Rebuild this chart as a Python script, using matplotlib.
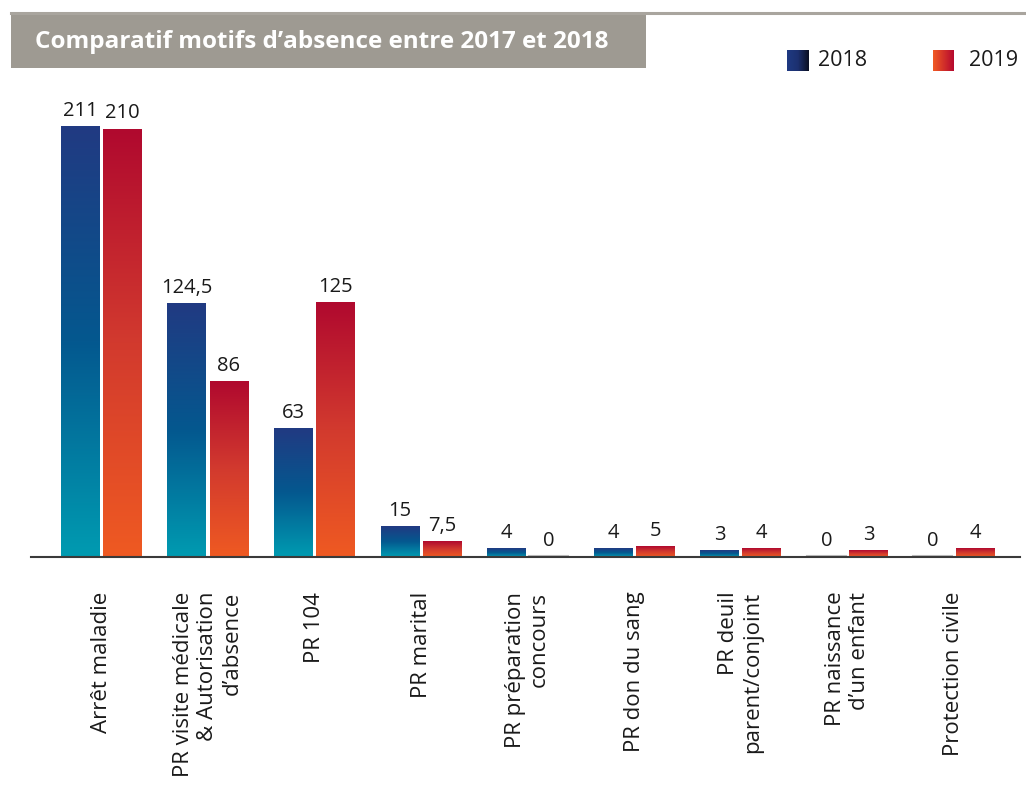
import matplotlib.pyplot as plt
import numpy as np
from matplotlib.colors import LinearSegmentedColormap
from matplotlib.patches import Rectangle
from matplotlib.lines import Line2D

plt.rcParams["font.family"] = ["Open Sans", "DejaVu Sans"]

categories = [
    "Arrêt maladie",
    "PR visite médicale\n& Autorisation\nd’absence",
    "PR 104",
    "PR marital",
    "PR préparation\nconcours",
    "PR don du sang",
    "PR deuil\nparent/conjoint",
    "PR naissance\nd’un enfant",
    "Protection civile",
]
values_2018 = [211, 124.5, 63, 15, 4, 4, 3, 0, 0]
values_2019 = [210, 86, 125, 7.5, 0, 5, 4, 3, 4]
labels_2018 = ["211", "124,5", "63", "15", "4", "4", "3", "0", "0"]
labels_2019 = ["210", "86", "125", "7,5", "0", "5", "4", "3", "4"]
series_names = ["2018", "2019"]

blue_cmap = LinearSegmentedColormap.from_list("blue", ["#009bb1", "#04588f", "#213a82"])
red_cmap = LinearSegmentedColormap.from_list("red", ["#ef5a22", "#d23a2e", "#b0092f"])
# legend swatches use a left-to-right gradient
blue_swatch = LinearSegmentedColormap.from_list("blue_sw", ["#1f3a82", "#1c3070", "#0a0f22"])
red_swatch = LinearSegmentedColormap.from_list("red_sw", ["#f15a24", "#b5092f"])

W, H = 1026, 805
fig = plt.figure(figsize=(W / 100, H / 100), dpi=100)

# header: grey line and title box
fig.add_artist(Line2D([11 / W, 1.0], [1 - 13 / H, 1 - 13 / H], color="#a9a59e", lw=2.2))
fig.add_artist(Rectangle((11 / W, 1 - 68 / H), (646 - 11) / W, (68 - 15) / H,
                         transform=fig.transFigure, facecolor="#9e9a92", edgecolor="none"))
fig.text(35 / W, 1 - 42 / H, "Comparatif motifs d’absence entre 2017 et 2018",
         color="white", fontsize=17.5, fontweight="bold", va="center", ha="left")

ax = fig.add_axes([31 / W, 1 - 557 / H, (1020 - 31) / W, (557 - 90) / H])
x = np.arange(len(categories))
width = 0.365
gap = 0.015
ymax = (557 - 90) / 2.038
ax.set_xlim(-0.66, len(categories) - 1 + 0.62)
ax.set_ylim(0, ymax)

grad = np.linspace(0, 1, 256).reshape(-1, 1)
for vals, labs, cmap, sign in [(values_2018, labels_2018, blue_cmap, -1),
                               (values_2019, labels_2019, red_cmap, 1)]:
    pos = x + sign * (width / 2 + gap)
    bars = ax.bar(pos, vals, width, color="none", edgecolor="none")
    for b, v, lab in zip(bars, vals, labs):
        x0, w, h = b.get_x(), b.get_width(), b.get_height()
        if h > 0:
            ax.imshow(grad, cmap=cmap, aspect="auto", origin="lower",
                      extent=(x0, x0 + w, 0, h), zorder=2)
        else:
            ax.plot([x0, x0 + w], [0.3, 0.3], color="#bdbdbd", lw=1.5, zorder=2)
        ax.annotate(lab, (x0 + w / 2, h), xytext=(0, 4), textcoords="offset points",
                    ha="center", va="bottom", fontsize=14.5, color="#1a1a1a")

ax.set_xticks(x)
ax.set_xticklabels(categories, rotation=90, va="top", ha="center",
                   multialignment="right", fontsize=16, color="#1a1a1a")
ax.tick_params(axis="x", length=0, pad=25)
ax.set_yticks([])
for side in ["top", "left", "right"]:
    ax.spines[side].set_visible(False)
ax.spines["bottom"].set_color("#3a3a3a")
ax.spines["bottom"].set_linewidth(1.5)

# legend with gradient swatches
hgrad = np.linspace(0, 1, 64).reshape(1, -1)
for sx, tx, name, cmap in [(787, 818, series_names[0], blue_swatch),
                           (933, 969, series_names[1], red_swatch)]:
    sw = fig.add_axes([sx / W, 1 - 71 / H, 21 / W, 21 / H])
    sw.imshow(hgrad, cmap=cmap, aspect="auto")
    sw.axis("off")
    fig.text(tx / W, 1 - 61 / H, name, fontsize=15.5, va="center", ha="left", color="#1a1a1a")

fig.savefig("out.png", dpi=100)
